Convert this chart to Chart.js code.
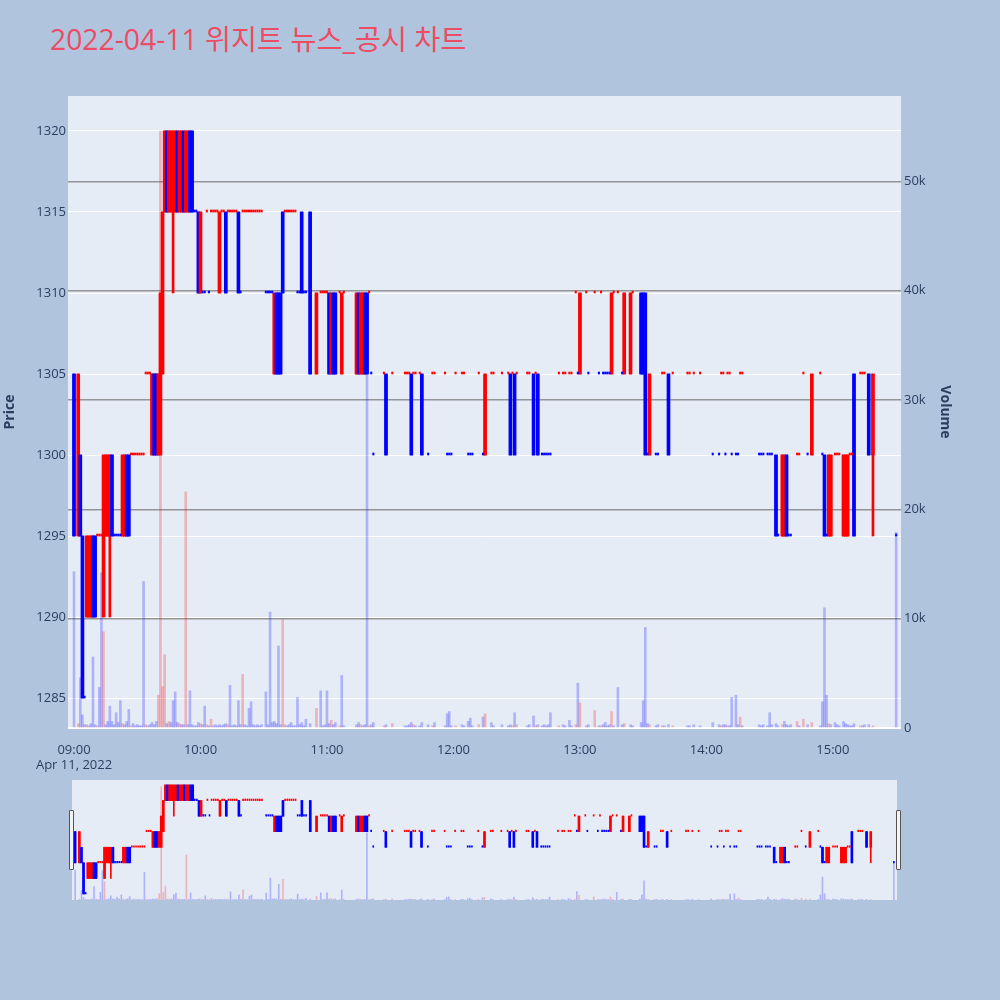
<!DOCTYPE html>
<html lang="ko">
<head>
<meta charset="utf-8">
<title>위지트 뉴스_공시 차트</title>
<script src="https://cdn.jsdelivr.net/npm/chart.js@4.4.1/dist/chart.umd.min.js"></script>
<style>
  html, body { margin:0; padding:0; width:1000px; height:1000px; background:#b0c4de; overflow:hidden; }
  #title { position:absolute; left:50px; top:25px; font-size:28.3px; line-height:28px; font-family:"Open Sans","Noto Sans CJK KR",sans-serif; color:#ec4c64; white-space:nowrap; }
  #mainChart { position:absolute; left:0; top:0; }
  #miniChart { position:absolute; left:72px; top:780px; }
  .grip { position:absolute; top:810px; width:3px; height:58px; background:#f4f4f4; border:1px solid #555; border-radius:1px; }
</style>
</head>
<body>
<div id="title"></div>
<canvas id="mainChart" width="1000" height="780" style="width:1000px;height:780px"></canvas>
<canvas id="miniChart" width="825" height="120" style="width:825px;height:120px"></canvas>
<div class="grip" style="left:69px"></div>
<div class="grip" style="left:896px"></div>
<script>
const chartTitle = '2022-04-11 위지트 뉴스_공시 차트';
const dateLabel = 'Apr 11, 2022';
const timeTicks = ['09:00','10:00','11:00','12:00','13:00','14:00','15:00'];
const priceTicks = [1285,1290,1295,1300,1305,1310,1315,1320];
const volumeTicks = [0,10000,20000,30000,40000,50000];
const volumeTickLabels = ['0','10k','20k','30k','40k','50k'];

const times = [
'09:00','09:02','09:03','09:04','09:05','09:06','09:07','09:08','09:09','09:10','09:11','09:12','09:13','09:14','09:15','09:16','09:17','09:18','09:19','09:20','09:21','09:22','09:23','09:24','09:25','09:26','09:27','09:28','09:29','09:30','09:31','09:32','09:33','09:34','09:35','09:36','09:37','09:38','09:39','09:40','09:41','09:42','09:43','09:44','09:45','09:46','09:47','09:48','09:49','09:50','09:51','09:52','09:53','09:54','09:55','09:56','09:57','09:58','09:59',
'10:00','10:01','10:02','10:03','10:04','10:05','10:06','10:07','10:08','10:09','10:10','10:11','10:12','10:13','10:14','10:15','10:16','10:17','10:18','10:19','10:20','10:21','10:22','10:23','10:24','10:25','10:26','10:27','10:28','10:29','10:31','10:32','10:33','10:34','10:35','10:36','10:37','10:38','10:39','10:40','10:41','10:42','10:43','10:44','10:45','10:46','10:47','10:48','10:49','10:50','10:52','10:55','10:57','10:58','10:59',
'11:00','11:01','11:02','11:03','11:04','11:06','11:07','11:08','11:14','11:15','11:16','11:17','11:18','11:19','11:20','11:21','11:22','11:27','11:28','11:31','11:37','11:38','11:39','11:40','11:41','11:42','11:44','11:45','11:48','11:50','11:51','11:56','11:57','11:58','11:59',
'12:01','12:04','12:05','12:07','12:08','12:09','12:12','12:14','12:15','12:18','12:19','12:23','12:26','12:27','12:28','12:29','12:30','12:35','12:36','12:38','12:39','12:40','12:42','12:43','12:44','12:45','12:46','12:50','12:52','12:53','12:55','12:56','12:58','12:59',
'13:00','13:03','13:04','13:07','13:09','13:10','13:11','13:12','13:13','13:14','13:15','13:16','13:18','13:20','13:21','13:24','13:25','13:29','13:30','13:31','13:32','13:33','13:36','13:37','13:39','13:40','13:42','13:44','13:51','13:52','13:54','13:57',
'14:03','14:06','14:07','14:08','14:09','14:10','14:11','14:12','14:14','14:15','14:16','14:17','14:25','14:26','14:27','14:29','14:30','14:31','14:33','14:34','14:36','14:37','14:38','14:39','14:40','14:43','14:44','14:46','14:48','14:50','14:54','14:55','14:56','14:57','14:58','14:59',
'15:01','15:02','15:03','15:05','15:06','15:07','15:08','15:09','15:10','15:13','15:14','15:15','15:17','15:19','15:30'
];

const open = [
1305,1295,1300,1295,1285,1290,1290,1290,1295,1295, 1295,1295,1295,1290,1295,1295,1295,1300,1295,1295, 1295,1295,1295,1295,1300,1300,1300,1300,1300,1300, 1300,1300,1300,1305,1305,1305,1300,1305,1305,1300, 1300,1305,1315,1320,1315,1315,1315,1315,1320,1315, 1315,1320,1315,1315,1320,1320,1315,1315,1315,
1310,1310,1310,1315,1310,1315,1315,1315,1315,1310, 1315,1315,1315,1315,1315,1315,1315,1315,1315,1310, 1315,1315,1315,1315,1315,1315,1315,1315,1315,1315, 1310,1310,1310,1310,1305,1310,1310,1310,1315,1315, 1315,1315,1315,1315,1315,1310,1310,1315,1310,1310, 1315,1305,1310,1310,1310,
1310,1310,1305,1310,1310,1310,1305,1310,1305,1310, 1305,1305,1310,1310,1310,1305,1300,1305,1305,1305, 1305,1305,1305,1305,1305,1305,1305,1305,1300,1305, 1305,1305,1300,1300,1300,
1305,1305,1305,1300,1300,1300,1305,1300,1300,1305, 1305,1305,1305,1305,1305,1305,1305,1305,1305,1305, 1305,1305,1300,1300,1300,1300,1300,1305,1305,1305, 1305,1305,1310,1305,
1305,1310,1305,1310,1305,1310,1305,1305,1305,1305, 1305,1310,1310,1305,1305,1305,1310,1310,1310,1310, 1300,1300,1300,1300,1305,1305,1305,1305,1305,1305, 1305,1305,
1300,1300,1305,1305,1300,1305,1305,1300,1300,1300, 1305,1305,1300,1300,1300,1300,1300,1300,1300,1295, 1295,1295,1300,1295,1295,1300,1300,1305,1300,1300, 1305,1300,1300,1295,1295,1295,
1300,1300,1300,1295,1295,1295,1300,1300,1305,1305, 1305,1305,1305,1300,1295
];

const high = [
1305,1305,1300,1295,1285,1295,1295,1295,1295,1295, 1295,1295,1295,1300,1300,1300,1300,1300,1295,1295, 1295,1295,1300,1300,1300,1300,1300,1300,1300,1300, 1300,1300,1300,1305,1305,1305,1305,1305,1305,1305, 1310,1315,1320,1320,1320,1320,1320,1320,1320,1320, 1320,1320,1320,1320,1320,1320,1315,1315,1315,
1315,1310,1310,1315,1310,1315,1315,1315,1315,1315, 1315,1315,1315,1315,1315,1315,1315,1315,1315,1310, 1315,1315,1315,1315,1315,1315,1315,1315,1315,1315, 1310,1310,1310,1310,1310,1310,1310,1310,1315,1315, 1315,1315,1315,1315,1315,1310,1310,1315,1310,1310, 1315,1310,1310,1310,1310,
1310,1310,1310,1310,1310,1310,1310,1310,1310,1310, 1310,1310,1310,1310,1310,1305,1300,1305,1305,1305, 1305,1305,1305,1305,1305,1305,1305,1305,1300,1305, 1305,1305,1300,1300,1300,
1305,1305,1305,1300,1300,1300,1305,1300,1305,1305, 1305,1305,1305,1305,1305,1305,1305,1305,1305,1305, 1305,1305,1300,1300,1300,1300,1300,1305,1305,1305, 1305,1305,1310,1305,
1310,1310,1305,1310,1305,1310,1305,1305,1305,1305, 1310,1310,1310,1305,1310,1310,1310,1310,1310,1310, 1300,1305,1300,1300,1305,1305,1305,1305,1305,1305, 1305,1305,
1300,1300,1305,1305,1300,1305,1305,1300,1300,1300, 1305,1305,1300,1300,1300,1300,1300,1300,1300,1295, 1300,1300,1300,1295,1295,1300,1300,1305,1300,1305, 1305,1300,1300,1295,1300,1300,
1300,1300,1300,1300,1300,1300,1300,1300,1305,1305, 1305,1305,1305,1305,1295
];

const low = [
1295,1295,1295,1285,1285,1290,1290,1290,1290,1290, 1295,1295,1295,1290,1295,1295,1290,1295,1295,1295, 1295,1295,1295,1295,1295,1295,1300,1300,1300,1300, 1300,1300,1300,1305,1305,1305,1300,1300,1300,1300, 1300,1305,1315,1315,1315,1315,1310,1315,1315,1315, 1315,1315,1315,1315,1315,1315,1315,1315,1310,
1310,1310,1310,1315,1310,1315,1315,1315,1315,1310, 1315,1315,1310,1315,1315,1315,1315,1315,1310,1310, 1315,1315,1315,1315,1315,1315,1315,1315,1315,1315, 1310,1310,1310,1310,1305,1305,1305,1305,1310,1315, 1315,1315,1315,1315,1315,1310,1310,1310,1310,1310, 1305,1305,1310,1310,1310,
1310,1305,1305,1305,1305,1310,1305,1310,1305,1305, 1305,1305,1305,1305,1310,1305,1300,1305,1300,1305, 1305,1305,1305,1300,1305,1305,1305,1300,1300,1305, 1305,1305,1300,1300,1300,
1305,1305,1305,1300,1300,1300,1305,1300,1300,1305, 1305,1305,1305,1300,1305,1300,1305,1305,1305,1300, 1305,1300,1300,1300,1300,1300,1300,1305,1305,1305, 1305,1305,1310,1305,
1305,1310,1305,1310,1305,1310,1305,1305,1305,1305, 1305,1310,1310,1305,1305,1305,1310,1305,1305,1300, 1300,1300,1300,1300,1305,1305,1300,1305,1305,1305, 1305,1305,
1300,1300,1305,1305,1300,1305,1305,1300,1300,1300, 1305,1305,1300,1300,1300,1300,1300,1300,1295,1295, 1295,1295,1295,1295,1295,1300,1300,1305,1300,1300, 1305,1300,1295,1295,1295,1295,
1300,1300,1300,1295,1295,1295,1300,1300,1295,1305, 1305,1305,1300,1295,1295
];

const close = [
1295,1305,1295,1285,1285,1295,1295,1295,1290,1290, 1295,1295,1295,1300,1300,1300,1300,1295,1295,1295, 1295,1295,1300,1300,1295,1295,1300,1300,1300,1300, 1300,1300,1300,1305,1305,1305,1305,1300,1300,1305, 1310,1315,1320,1315,1320,1320,1320,1320,1315,1320, 1320,1315,1320,1320,1315,1315,1315,1315,1310,
1315,1310,1310,1315,1310,1315,1315,1315,1315,1315, 1315,1315,1310,1315,1315,1315,1315,1315,1310,1310, 1315,1315,1315,1315,1315,1315,1315,1315,1315,1315, 1310,1310,1310,1310,1310,1305,1305,1305,1310,1315, 1315,1315,1315,1315,1315,1310,1310,1310,1310,1310, 1305,1310,1310,1310,1310,
1310,1305,1310,1305,1305,1310,1310,1310,1310,1305, 1310,1310,1305,1305,1310,1305,1300,1305,1300,1305, 1305,1305,1305,1300,1305,1305,1305,1300,1300,1305, 1305,1305,1300,1300,1300,
1305,1305,1305,1300,1300,1300,1305,1300,1305,1305, 1305,1305,1305,1300,1305,1300,1305,1305,1305,1300, 1305,1300,1300,1300,1300,1300,1300,1305,1305,1305, 1305,1305,1310,1305,
1310,1310,1305,1310,1305,1310,1305,1305,1305,1305, 1310,1310,1310,1305,1310,1310,1310,1305,1305,1300, 1300,1305,1300,1300,1305,1305,1300,1305,1305,1305, 1305,1305,
1300,1300,1305,1305,1300,1305,1305,1300,1300,1300, 1305,1305,1300,1300,1300,1300,1300,1300,1295,1295, 1300,1300,1295,1295,1295,1300,1300,1305,1300,1305, 1305,1300,1295,1295,1300,1300,
1300,1300,1300,1300,1300,1300,1300,1300,1295,1305, 1305,1305,1300,1305,1295
];

const volume = [
14300,400,4600,1200,300,300,200,400,6500,300, 200,3700,14200,8800,300,600,2000,600,300,1400, 500,2500,400,300,600,1700,200,400,200,300, 200,200,13400,300,200,300,500,300,600,3000, 54600,3800,6700,400,600,500,2500,3300,500,400, 300,300,21600,300,3400,300,200,200,500,
400,300,2000,300,200,800,200,300,200,300, 200,300,400,300,3900,200,300,200,2500,300, 4900,300,200,1800,2400,300,200,300,200,300, 3300,300,10600,500,600,400,7500,300,9900,300, 200,300,500,200,200,2800,300,500,200,800, 400,1800,3400,200,300,
3400,400,700,300,500,200,4800,200,300,500, 300,200,300,32300,200,300,500,200,300,400, 200,200,300,500,300,200,200,500,300,200, 500,200,1300,1500,200,
200,300,200,600,900,200,300,1000,1300,500, 200,300,200,300,200,1400,300,200,300,1100, 200,300,200,300,200,300,1400,200,300,200, 700,200,300,4100,
2300,200,300,1600,200,200,300,500,200,300, 1500,200,3700,300,400,300,200,500,2500,9200, 400,300,200,300,200,200,300,200,200,200, 300,200,
500,300,200,300,300,200,200,2800,3000,300, 1000,200,300,200,300,200,1400,300,400,200, 300,600,300,200,300,600,200,800,300,500, 200,2400,11000,3000,400,300,
500,300,200,600,400,300,200,200,400,200, 200,300,300,200,17900
];

document.getElementById('title').textContent = chartTitle;

const FONT = '"Open Sans", "Noto Sans CJK KR", sans-serif';
Chart.defaults.font.family = FONT;
const INK = '#2a3f5f';

const toMin = t => { const p = t.split(':').map(Number); return (p[0] - 9) * 60 + p[1]; };
const xs = times.map(toMin);

// candle direction (plotly style: ties resolved by previous close, then previous direction)
const dir = [];
close.forEach((c, i) => {
  const o = open[i], pc = i ? close[i - 1] : c;
  const d = c > o ? 1 : c < o ? -1 : c > pc ? 1 : c < pc ? -1 : (i ? dir[i - 1] : -1);
  dir.push(d);
});
const volUp = close.map((c, i) => i > 0 && c > close[i - 1]);
const isFlat = close.map((c, i) => c === open[i]);

const UP = '#ff0000', DOWN = '#0000ff';
const UPV = 'rgba(255,0,0,0.24)', DOWNV = 'rgba(0,0,255,0.24)';
const candleColor = ctx => dir[ctx.dataIndex] > 0 ? UP : DOWN;
const volColor = ctx => volUp[ctx.dataIndex] ? UPV : DOWNV;

function makeDatasets(bodyW, wickW, volW, flatW, flatH) {
  return [
    { label: 'Volume', yAxisID: 'yv', grouped: false, order: 4, barThickness: volW,
      data: xs.map((x, i) => ({ x: x, y: volume[i] })), backgroundColor: volColor, borderWidth: 0 },
    { label: 'Wick', yAxisID: 'y', grouped: false, order: 3, barThickness: wickW,
      data: xs.map((x, i) => ({ x: x, y: isFlat[i] ? null : [low[i], high[i]] })), backgroundColor: candleColor, borderWidth: 0 },
    { label: 'Body', yAxisID: 'y', grouped: false, order: 2, barThickness: bodyW,
      data: xs.map((x, i) => ({ x: x, y: isFlat[i] ? null : [Math.min(open[i], close[i]), Math.max(open[i], close[i])] })),
      backgroundColor: candleColor, borderWidth: 0 },
    { label: 'Flat', yAxisID: 'y', grouped: false, order: 1, barThickness: flatW, minBarLength: flatH,
      data: xs.map((x, i) => ({ x: x, y: isFlat[i] ? [low[i], high[i]] : null })),
      backgroundColor: candleColor, borderWidth: 0 }
  ];
}

const plotBg = {
  id: 'plotBg',
  beforeDraw(chart, args, opts) {
    const a = chart.chartArea, ctx = chart.ctx;
    ctx.save();
    ctx.fillStyle = opts.color;
    ctx.fillRect(a.left, a.top, a.right - a.left, a.bottom - a.top);
    ctx.restore();
  }
};

new Chart(document.getElementById('mainChart'), {
  type: 'bar',
  data: { datasets: makeDatasets(3, 2, 2, 1.4, 2) },
  plugins: [plotBg],
  options: {
    responsive: false, animation: false, events: [],
    layout: { padding: { top: 96, left: 0, right: 45, bottom: 0 } },
    plugins: { legend: { display: false }, tooltip: { enabled: false }, plotBg: { color: '#e5ecf6' } },
    scales: {
      x: {
        type: 'linear', min: -2.85, max: 392.3, offset: false,
        grid: { display: false }, border: { display: false },
        afterBuildTicks: s => { s.ticks = timeTicks.map(t => ({ value: toMin(t) })); },
        ticks: { autoSkip: false, maxRotation: 0, color: INK, font: { size: 13 }, padding: 6,
                 callback: (v, i) => i === 0 ? [timeTicks[i], dateLabel] : timeTicks[i] },
        afterFit: s => { s.height = 52; }
      },
      y: {
        position: 'left', min: 1283.15, max: 1322.16,
        grid: { color: '#ffffff', lineWidth: 1, drawTicks: false }, border: { display: false },
        afterBuildTicks: s => { s.ticks = priceTicks.map(v => ({ value: v })); },
        ticks: { color: INK, font: { size: 13 }, padding: 2, callback: (v, i) => String(priceTicks[i]) },
        title: { display: true, text: 'Price', color: INK, font: { size: 14, weight: 'bold' }, padding: { top: 2, bottom: 2 } },
        afterFit: s => { s.width = 68; }
      },
      yv: {
        position: 'right', min: 0, max: 57800,
        grid: { color: c => (c.tick && c.tick.value === 0) ? '#ffffff' : 'rgba(128,128,128,0.8)',
                lineWidth: c => (c.tick && c.tick.value === 0) ? 2 : 1.5, drawTicks: false },
        border: { display: false },
        afterBuildTicks: s => { s.ticks = volumeTicks.map(v => ({ value: v })); },
        ticks: { color: INK, font: { size: 13 }, padding: 3, callback: (v, i) => volumeTickLabels[i] },
        title: { display: true, text: 'Volume', color: INK, font: { size: 14, weight: 'bold' }, padding: { top: 2, bottom: 2 } },
        afterFit: s => { s.width = 54; }
      }
    }
  }
});

new Chart(document.getElementById('miniChart'), {
  type: 'bar',
  data: { datasets: makeDatasets(2, 1, 1, 1, 1.5) },
  plugins: [plotBg],
  options: {
    responsive: false, animation: false, events: [],
    layout: { padding: 0 },
    plugins: { legend: { display: false }, tooltip: { enabled: false }, plotBg: { color: '#e5ecf6' } },
    scales: {
      x: { type: 'linear', min: -1.5, max: 391.5, offset: false, display: false },
      y: { position: 'left', min: 1283.06, max: 1321.6, display: false },
      yv: { position: 'right', min: 0, max: 57800, display: false }
    }
  }
});
</script>
</body>
</html>
